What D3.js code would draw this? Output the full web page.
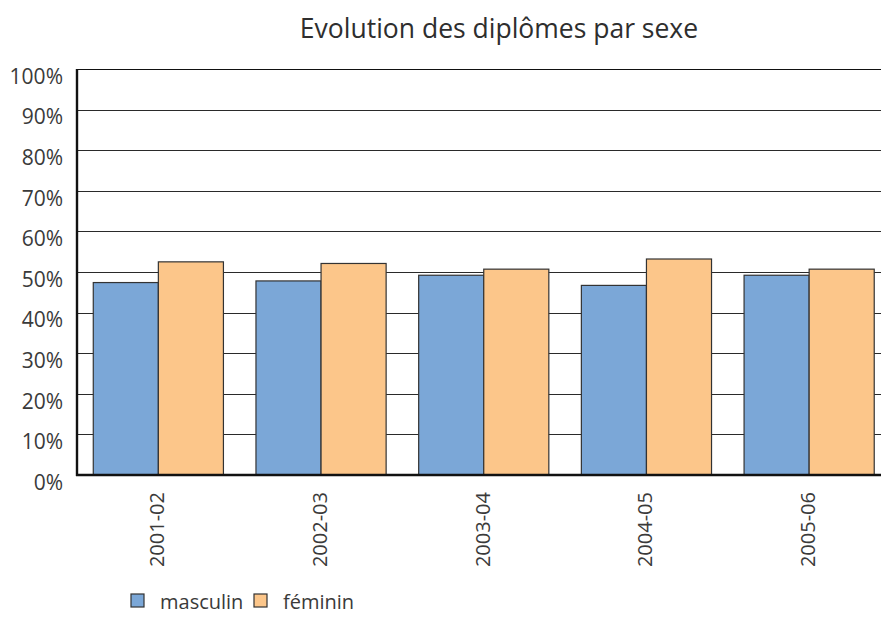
<!DOCTYPE html>
<html>
<head>
<meta charset="utf-8">
<script src="https://cdn.jsdelivr.net/npm/d3@7"></script>
<style>
  html, body { margin: 0; padding: 0; background: #fff; }
  svg text { font-family: "Open Sans", "Lato", sans-serif; fill: #3a3a3a; }
</style>
</head>
<body>
<svg id="chart" width="881" height="617"></svg>
<script>
// Share of diplomas by sex, per academic year
const years = ["2001-02", "2002-03", "2003-04", "2004-05", "2005-06"];
const masculin = [47.4, 47.8, 49.2, 46.7, 49.2];
const feminin = [52.5, 52.1, 50.7, 53.2, 50.7];
const seriesNames = ["masculin", "féminin"];
const seriesColors = ["#7ba7d7", "#fcc68a"];
const yTicks = [0, 10, 20, 30, 40, 50, 60, 70, 80, 90, 100];

const svg = d3.select("#chart");
const plotLeft = 77, plotTop = 69, plotBottom = 475, bandEnd = 890.5;

const x = d3.scaleBand().domain(years).range([plotLeft, bandEnd]).paddingInner(0.2).paddingOuter(0.1);
const xs = d3.scaleBand().domain(seriesNames).range([0, x.bandwidth()]);
const y = d3.scaleLinear().domain([0, 100]).range([plotBottom, plotTop]);

// Title
svg.append("text")
  .attr("x", 499).attr("y", 38)
  .attr("text-anchor", "middle")
  .style("font-size", "26.5px")
  .style("fill", "#2e2e2e")
  .text("Evolution des diplômes par sexe");

// Horizontal gridlines
svg.append("g")
  .selectAll("line")
  .data(yTicks.filter(d => d > 0))
  .join("line")
  .attr("x1", plotLeft).attr("x2", 881)
  .attr("y1", d => Math.round(y(d)) + 0.5)
  .attr("y2", d => Math.round(y(d)) + 0.5)
  .attr("stroke", d => d === 100 ? "#111" : "#2a2a2a")
  .attr("stroke-width", d => d === 100 ? 1.2 : 1);

// Bars
const rows = years.map((yr, i) => ({ year: yr, values: [masculin[i], feminin[i]] }));
const groups = svg.append("g")
  .selectAll("g")
  .data(rows)
  .join("g")
  .attr("transform", d => `translate(${x(d.year)},0)`);

groups.selectAll("rect")
  .data(d => d.values.map((v, k) => ({ name: seriesNames[k], value: v, k })))
  .join("rect")
  .attr("x", d => xs(d.name))
  .attr("y", d => y(d.value))
  .attr("width", xs.bandwidth())
  .attr("height", d => plotBottom - y(d.value))
  .attr("fill", d => seriesColors[d.k])
  .attr("stroke", "#333")
  .attr("stroke-width", 1.2);

// Y axis labels
const yAxis = d3.axisLeft(y).tickValues(yTicks).tickFormat(d => d + "%").tickSize(0).tickPadding(14);
const gy = svg.append("g").attr("transform", `translate(${plotLeft},0)`).call(yAxis);
gy.select(".domain").remove();
gy.selectAll("text")
  .style("font-size", "21px")
  .attr("dy", "0.35em")
  .attr("transform", "translate(0,7)");

// Axis lines
svg.append("line")
  .attr("x1", plotLeft).attr("x2", plotLeft).attr("y1", plotTop).attr("y2", plotBottom + 1)
  .attr("stroke", "#111").attr("stroke-width", 2.4);
svg.append("line")
  .attr("x1", plotLeft - 1).attr("x2", 881).attr("y1", plotBottom).attr("y2", plotBottom)
  .attr("stroke", "#111").attr("stroke-width", 2.4);

// X axis labels (rotated)
const xAxis = d3.axisBottom(x).tickSize(0).tickPadding(0);
const gx = svg.append("g").attr("transform", `translate(0,${plotBottom})`).call(xAxis);
gx.select(".domain").remove();
gx.selectAll("text")
  .style("font-size", "20px")
  .attr("text-anchor", "end")
  .attr("dy", null)
  .attr("y", 0)
  .attr("transform", "translate(6,17) rotate(-90)");

// Legend
const legend = svg.append("g").attr("transform", "translate(131,594)");
const legendX = [0, 123];
seriesNames.forEach((name, k) => {
  const g = legend.append("g").attr("transform", `translate(${legendX[k]},0)`);
  g.append("rect")
    .attr("width", 13).attr("height", 13)
    .attr("fill", seriesColors[k])
    .attr("stroke", "#333").attr("stroke-width", 1.2);
  g.append("text")
    .attr("x", 29).attr("y", 15)
    .style("font-size", "20px")
    .text(name);
});
</script>
</body>
</html>
